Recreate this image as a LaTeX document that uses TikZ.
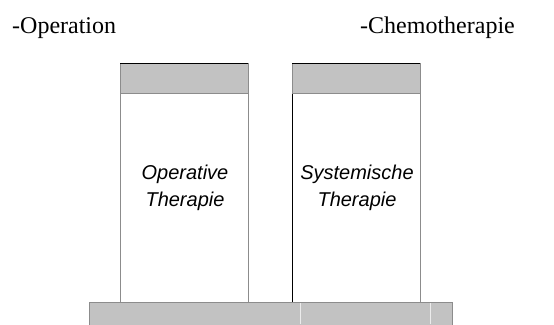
\documentclass[tikz,border=0pt]{standalone}
\usepackage{fontspec}
\setmainfont{Liberation Serif}
\setsansfont{Liberation Sans}
\usetikzlibrary{positioning}
\definecolor{capgray}{HTML}{C2C2C2}
\definecolor{linegray}{HTML}{8C8C8C}
\tikzstyle{pillar} = [draw=linegray, line width=1pt, fill=white, minimum width=128pt, minimum height=239pt, inner sep=0pt, outer sep=0pt]
\tikzstyle{capbox} = [draw=linegray, line width=1pt, fill=capgray, minimum width=128pt, minimum height=30pt, inner sep=0pt, outer sep=0pt]
\tikzstyle{pillarlabel} = [font=\sffamily\itshape\fontsize{20}{27}\selectfont, align=center, inner sep=0pt]
\tikzstyle{toplabel} = [font=\fontsize{24}{28}\selectfont, inner sep=0pt]

\begin{document}
\begin{tikzpicture}[x=1pt, y=-1pt]
    \useasboundingbox (0,0) rectangle (554,324);
    % base
    \node[draw=linegray, line width=1pt, fill=capgray, minimum width=363pt, minimum height=40pt, inner sep=0pt, anchor=north west] (base) at (89,302) {};
    \draw[white!85!gray, line width=0.8pt] (300,303) -- (300,324);
    \draw[white!85!gray, line width=0.8pt] (430,303) -- (430,324);
    % pillars
    \node[pillar, anchor=south west] (op) at (120,302) {};
    \node[pillar, anchor=south west] (sys) at (292,302) {};
    \draw[black, line width=0.9pt] (sys.south west) -- (sys.north west);
    \node[capbox, anchor=north] (opcap) at (op.north) {};
    \node[capbox, anchor=north] (syscap) at (sys.north) {};
    \draw[black, line width=1pt] (opcap.north west) -- (opcap.north east);
    \draw[black, line width=1pt] (syscap.north west) -- (syscap.north east);
    % texts
    \node[pillarlabel] (optext) at (185,188) {Operative\\Therapie};
    \node[pillarlabel] (systext) at (357,188) {Systemische\\Therapie};
    \node[toplabel, anchor=base west] (oplabel) at (12,33) {-Operation};
    \node[toplabel, anchor=base west] (chemolabel) at (360,33) {-Chemotherapie};
\end{tikzpicture}
\end{document}
